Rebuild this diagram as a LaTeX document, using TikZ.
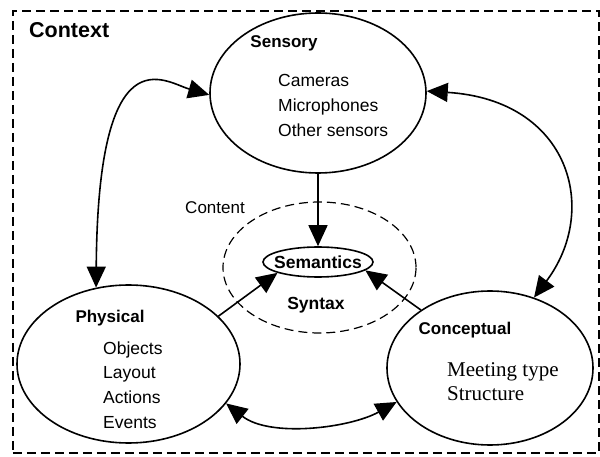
\documentclass[tikz,border=0pt]{standalone}
\usepackage{fontspec}
\setmainfont{Liberation Sans}
\newfontfamily\timesfont{Liberation Serif}
\usetikzlibrary{arrows.meta, shapes.geometric}
\tikzset{
>={Triangle[length=21pt, width=19pt]}, % big filled arrow heads
area/.style={ellipse, draw, line width=1.6pt, inner sep=0pt}, % the ellipses
title/.style={font=\fontsize{17}{20}\selectfont\bfseries, inner sep=0pt}, % bold headings
item/.style={font=\fontsize{17.5}{25}\selectfont, align=left, anchor=west, inner sep=0pt}, % lists
link/.style={line width=1.6pt}, % the connectors
}

\begin{document}
\begin{tikzpicture}[x=1pt, y=-1pt]
  \useasboundingbox (0,0) rectangle (600,457);

  % Context frame
  \node[draw, line width=1.8pt, dash pattern=on 9pt off 5pt, minimum width=586pt,
        minimum height=442pt, anchor=north west, inner sep=0pt] (ctx) at (12,10) {};
  \node[title, font=\fontsize{21.5}{24}\selectfont\bfseries, anchor=west] (ctxlabel) at (29,30) {Context};

  % Areas
  \node[area, minimum width=216pt, minimum height=160pt] (sens) at (318,93) {};
  \node[area, minimum width=223pt, minimum height=158pt] (phys) at (128.5,364) {};
  \node[area, minimum width=206pt, minimum height=154pt] (conc) at (490,368) {};
  \node[ellipse, draw, line width=1.2pt, dash pattern=on 9pt off 5pt,
        minimum width=193pt, minimum height=131pt] (cont) at (319.5,267.5) {};
  \node[area, minimum width=110pt, minimum height=30pt] (sem) at (318,262) {};

  % Texts
  \node[title] (senstitle) at (284,43) {Sensory};
  \node[item] (senslist) at (278,105.5) {Cameras\\Microphones\\Other sensors};
  \node[title] (phystitle) at (110,318) {Physical};
  \node[item, font=\fontsize{17.5}{24.6}\selectfont] (physlist) at (103,385) {Objects\\Layout\\Actions\\Events};
  \node[title] (conctitle) at (465,330) {Conceptual};
  \node[item, font=\fontsize{21}{23.5}\selectfont\timesfont] (conclist) at (447,381.5) {Meeting type\\Structure};
  \node[title, font=\fontsize{17.5}{20}\selectfont\bfseries] (semlabel) at (318,262) {Semantics};
  \node[title, font=\fontsize{17.5}{20}\selectfont\bfseries] (synlabel) at (316,305) {Syntax};
  \node[item, anchor=center, font=\fontsize{17}{20}\selectfont] (contlabel) at (215,208) {Content};

  % Connectors
  \draw[link, <->] (phys.113) .. controls (98,30) and (165,82) .. (sens.181);
  \draw[link, <->] (sens.1) .. controls (570,100) and (600,210) .. (conc.58);
  \draw[link, <->] (phys.-22) .. controls (270,438) and (350,428) .. (conc.200);
  \draw[link, ->] (sens) -- (sem);
  \draw[link, ->] (phys.28) -- (sem.195);
  \draw[link, ->] (conc.140) -- (sem.-10);
\end{tikzpicture}
\end{document}
